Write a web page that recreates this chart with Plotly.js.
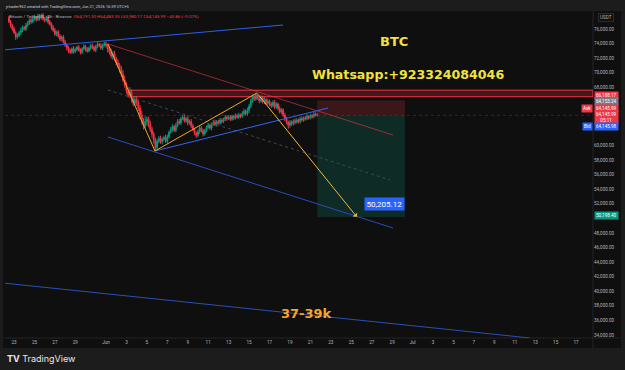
<!DOCTYPE html>
<html><head><meta charset="utf-8">
<script src="https://cdn.plot.ly/plotly-3.0.1.min.js"></script>
<style>html,body{margin:0;padding:0;background:#1c1c1c;overflow:hidden}#chart{width:625px;height:370px}</style>
</head><body><div id="chart"></div>
<script>
// ---------------- DATA ----------------
const firstCandleTime = '2026-05-22T12:00:00Z';   // 4h candles
const firstOpen = 77500;
const closePrices = [
 // late May – top and consolidation
 77000,76500,76000,75500,74900,75100,75500,75800,76200,76000,
 76500,76800,77200,77000,77400,77600,77300,77800,77500,77900,
 77400,77200,77600,77000,76700,76200,75800,75300,75600,75000,
 74600,74900,74200,73800,73400,73000,72800,73300,72900,73200,
 73500,73100,72800,73300,73600,73200,73000,73400,73700,73500,
 73100,73600,73900,73700,73400,73800,74000,73700,
 // early June – sell-off
 73200,72800,72300,72600,71900,71400,71000,70500,69800,69000,
 68300,67500,66900,67300,66400,65800,66300,65900,65100,64200,
 63300,62700,63300,63600,62900,62200,61600,60800,
 // recovery to mid-June high
 59700,60600,61000,60500,60900,61100,60600,61200,61800,62200,
 62600,62100,62700,63300,63100,63700,63900,63400,63700,63100,
 63300,62700,62200,61700,61400,61900,62400,62000,61600,62100,
 62500,62800,62400,62900,63200,62900,63300,63100,63500,63300,
 63600,63900,63700,63900,63600,64000,63800,64100,63900,64200,
 64000,64400,64700,64400,64800,65400,66100,66600,66400,66900,
 // pullback to Jun 21
 66500,66100,66600,66000,66300,65800,66100,65700,65500,65900,
 65300,65700,65100,64600,64900,64200,63700,63200,62800,63200,
 63000,63400,63200,63500,63300,63700,63500,63800,63700,64000,
 63800,64100,64000,64300,64191.30,64145.99
];
const upperWicks = [
 300,250,200,350,200,300,250,400,300,200, 350,300,250,400,300,350,200,300,250,200,
 300,250,200,300,250,200,300,350,200,250, 300,200,250,300,200,250,300,200,350,250,
 200,300,250,200,350,250,300,200,250,300, 200,250,300,200,350,200,250,300,
 300,400,500,350,400,300,450,350,400,500, 600,400,500,700,400,350,500,400,300,450,
 600,500,700,400,350,500,400,300,
 300,250,300,350,200,250,400,300,250,350, 300,250,400,300,350,200,300,450,250,300,
 250,350,300,250,200,300,350,250,300,200, 250,300,200,250,300,350,200,250,300,250,
 200,300,250,200,300,250,200,300,250,300, 200,300,350,250,400,300,350,400,300,300,
 300,250,300,200,350,250,300,200,250,300, 350,250,200,300,250,200,300,250,200,300,
 250,200,300,250,200,250,300,200,250,300, 200,250,200,300,250,292.05
];
const lowerWicks = [
 200,300,250,200,400,250,200,300,250,200, 300,200,250,300,200,250,300,200,350,200,
 250,300,200,350,250,300,200,250,300,200, 250,300,200,250,350,300,200,250,300,200,
 250,200,300,250,200,300,250,200,300,250, 200,300,250,200,250,300,200,250,
 400,300,350,500,300,400,350,500,400,300, 350,400,300,350,500,400,300,450,350,600,
 400,500,350,600,400,350,500,550,
 450,400,300,250,350,300,250,300,250,200, 300,250,300,200,250,300,200,250,300,350,
 250,300,200,300,350,250,300,200,350,250, 300,200,250,300,200,250,300,200,250,300,
 200,250,300,200,250,200,300,250,200,300, 250,200,300,250,300,350,300,250,300,250,
 250,300,200,250,300,200,250,300,350,250, 300,250,300,200,250,300,350,300,500,350,
 300,250,300,200,250,300,200,250,300,200, 250,200,300,250,200,165.82
];

// drawings (time, price)
const upperChannelT = ['2026-05-21 22:00','2026-06-18 07:40'], upperChannelP = [73117, 76549];
const redDiagT  = ['2026-06-01 04:40','2026-06-29 02:00'], redDiagP  = [73940, 61446];
const midDashT  = ['2026-06-01 04:40','2026-06-28 19:00'], midDashP  = [67625, 55268];
const lowerChanT= ['2026-06-01 04:40','2026-06-29 02:00'], lowerChanP= [61172, 48677];
const riseLineT = ['2026-06-05 19:00','2026-06-22 17:20'], riseLineP = [59250, 65153];
const zigT = ['2026-06-01 04:40','2026-06-05 19:00','2026-06-15 18:30'], zigP = [73940, 59250, 67213];
const arrowTipT = '2026-06-25 13:00', arrowTipP = 50205.12;
const bottomLineT = ['2026-05-21 22:00','2026-07-12 12:00'], bottomLineP = [41126, 33574];
const bandStartT = '2026-06-03 08:20', bandTopP = 67600, bandBotP = 66700;
const posStartT = '2026-06-21 16:00', posEndT = '2026-06-30 06:00';
const posEntry = 64153.24, posStop = 66188.17, posTarget = 50198.40;
const lastPrice = 64145.99;
const targetLabel = '50,205.12', targetLabelT = '2026-06-28 05:00', targetLabelP = 51972;

// axes
const xRange = ['2026-05-22 02:49','2026-07-18 15:40'];
const yRange = [33574, 78334];
const xTickVals = ['2026-05-23','2026-05-25','2026-05-27','2026-05-29','2026-06-01','2026-06-03','2026-06-05','2026-06-07',
 '2026-06-09','2026-06-11','2026-06-13','2026-06-15','2026-06-17','2026-06-19','2026-06-21','2026-06-23','2026-06-25',
 '2026-06-27','2026-06-29','2026-07-01','2026-07-03','2026-07-05','2026-07-07','2026-07-09','2026-07-11','2026-07-13',
 '2026-07-15','2026-07-17'];
const xTickText = ['23','25','27','29','Jun','3','5','7','9','11','13','15','17','19','21','23','25','27','29','Jul',
 '3','5','7','9','11','13','15','17'];
const yTickVals = [34000,36000,38000,40000,42000,44000,46000,48000,52000,54000,56000,58000,60000,68000,70000,72000,74000,76000];

// ---------------- BUILD ----------------
function fmt(d){const p=n=>String(n).padStart(2,'0');
 return d.getUTCFullYear()+'-'+p(d.getUTCMonth()+1)+'-'+p(d.getUTCDate())+' '+p(d.getUTCHours())+':'+p(d.getUTCMinutes());}
const t0 = new Date(firstCandleTime).getTime();
const times = closePrices.map((_,i)=>fmt(new Date(t0+i*4*3600*1000)));
const opens = closePrices.map((c,i)=> i===0 ? firstOpen : closePrices[i-1]);
const highs = closePrices.map((c,i)=> Math.max(c,opens[i]) + upperWicks[i]);
const lows  = closePrices.map((c,i)=> Math.min(c,opens[i]) - lowerWicks[i]);

const px = x => (x-5)/588, py = y => (338-y)/326;
const line = (x,y,color,w,dash)=>({type:'scatter',mode:'lines',x,y,line:{color,width:w,dash:dash||'solid'},hoverinfo:'skip',showlegend:false});

const traces = [
 line(bottomLineT,bottomLineP,'#2c4fb5',1),
 line(upperChannelT,upperChannelP,'#2f5fe8',1),
 line(redDiagT,redDiagP,'rgba(242,54,69,0.6)',1),
 line(midDashT,midDashP,'#42464f',1,'dot'),
 line(lowerChanT,lowerChanP,'#2b4bbd',1),
 {type:'candlestick',x:times,open:opens,high:highs,low:lows,close:closePrices,
  increasing:{line:{color:'#089981',width:1},fillcolor:'#089981'},
  decreasing:{line:{color:'#f23645',width:1},fillcolor:'#f23645'},
  whiskerwidth:0,hoverinfo:'skip',showlegend:false},
 line(riseLineT,riseLineP,'#3464f0',1),
 line(zigT,zigP,'#f5a623',1)
];

const tf = 'Roboto, sans-serif';
const tag = (txt,y,bg,col)=>({xref:'paper',yref:'paper',x:px(594),y:py(y),xanchor:'left',yanchor:'middle',
  text:txt,showarrow:false,bgcolor:bg,font:{family:tf,size:4.6,color:col||'#ffffff'},borderpad:1});
const sideTag = (txt,y,bg)=>({xref:'paper',yref:'paper',x:px(593),y:py(y),xanchor:'right',yanchor:'middle',
  text:txt,showarrow:false,bgcolor:bg,font:{family:tf,size:4.6,color:'#ffffff'},borderpad:1});

const annotations = [
 {xref:'paper',yref:'paper',x:px(3),y:py(6),xanchor:'left',yanchor:'middle',showarrow:false,
  text:'jrtrader962 created with TradingView.com, Jun 21, 2026 16:59 UTC+5',font:{family:tf,size:4,color:'#d1d4dc'}},
 {xref:'paper',yref:'paper',x:px(7),y:py(16),xanchor:'left',yanchor:'middle',showarrow:false,
  text:'Bitcoin / TetherUS · 4h · Binance  <span style="color:#f23645">O64,191.30</span> <span style="color:#f23645">H64,483.35</span> <span style="color:#f23645">L63,980.17</span> <span style="color:#f23645">C64,145.99</span> <span style="color:#f23645">−45.86 (−0.07%)</span>',
  font:{family:tf,size:4.4,color:'#b2b5be'}},
 {xref:'paper',yref:'paper',x:px(394),y:py(41),xanchor:'center',yanchor:'middle',showarrow:false,
  text:'<b>BTC</b>',font:{family:'DejaVu Sans',size:13,color:'#f2e23c'}},
 {xref:'paper',yref:'paper',x:px(408),y:py(74),xanchor:'center',yanchor:'middle',showarrow:false,
  text:'<b>Whatsapp:+923324084046</b>',font:{family:'DejaVu Sans',size:12.6,color:'#f2e23c'}},
 {xref:'paper',yref:'paper',x:px(306),y:py(313),xanchor:'center',yanchor:'middle',showarrow:false,
  text:'<b>37-39k</b>',font:{family:'DejaVu Sans',size:13,color:'#f5a623'}},
 {xref:'x',yref:'y',x:arrowTipT,y:arrowTipP,axref:'x',ayref:'y',ax:zigT[2],ay:zigP[2],text:'',
  showarrow:true,arrowhead:1,arrowsize:1,arrowwidth:1,arrowcolor:'#f0b93a'},
 {xref:'x',yref:'y',x:targetLabelT,y:targetLabelP,xanchor:'center',yanchor:'middle',showarrow:false,
  text:targetLabel,bgcolor:'#2962ff',font:{family:tf,size:8,color:'#ffffff'},borderpad:1.5},
 {xref:'paper',yref:'paper',x:px(598),y:py(17),xanchor:'left',yanchor:'middle',showarrow:false,
  text:'USDT',font:{family:tf,size:4.6,color:'#b2b5be'},bordercolor:'#2a2a2a',borderwidth:1,borderpad:1},
 tag('66,188.17',96,'#f23645'),
 tag('64,153.24',102,'#787b86'),
 tag('64,145.99',109,'#f23645'),
 tag('64,145.99<br>05:11',117.5,'#f23645'),
 tag('64,145.98',127,'#2962ff'),
 tag('50,198.40',216,'#089981'),
 sideTag('Ask',109,'#f23645'),
 sideTag('Bid',127,'#2962ff'),
 {xref:'paper',yref:'paper',x:px(5),y:py(358),xanchor:'left',yanchor:'middle',showarrow:false,
  text:'<b>TV</b> TradingView',font:{family:'Inter, sans-serif',size:9,color:'#e8e8e8'}}
];

const shapes = [
 {type:'rect',xref:'paper',yref:'paper',x0:px(3),x1:px(621),y0:py(348),y1:py(11),fillcolor:'#0f0f0f',line:{width:0},layer:'below'},
 {type:'line',xref:'paper',yref:'paper',x0:px(3),x1:px(621),y0:py(338),y1:py(338),line:{color:'#242424',width:1},layer:'below'},
 {type:'line',xref:'paper',yref:'paper',x0:px(593),x1:px(593),y0:py(348),y1:py(11),line:{color:'#242424',width:1},layer:'below'},
 {type:'rect',xref:'x',yref:'y',x0:bandStartT,x1:xRange[1],y0:bandBotP,y1:bandTopP,fillcolor:'rgba(242,54,69,0.22)',line:{color:'#f23645',width:1},layer:'below'},
 {type:'rect',xref:'x',yref:'y',x0:posStartT,x1:posEndT,y0:posEntry,y1:posStop,fillcolor:'rgba(242,54,69,0.2)',line:{width:0},layer:'below'},
 {type:'rect',xref:'x',yref:'y',x0:posStartT,x1:posEndT,y0:posTarget,y1:posEntry,fillcolor:'rgba(8,153,129,0.2)',line:{width:0},layer:'below'},
 {type:'line',xref:'paper',yref:'y',x0:0,x1:1,y0:lastPrice,y1:lastPrice,line:{color:'rgba(242,54,69,0.3)',width:1,dash:'dot'},layer:'below'}
];

const layout = {
 width:625,height:370,margin:{l:5,r:32,t:12,b:32},
 paper_bgcolor:'#1c1c1c',plot_bgcolor:'rgba(0,0,0,0)',
 showlegend:false,
 xaxis:{type:'date',range:xRange,rangeslider:{visible:false},tickmode:'array',tickvals:xTickVals,ticktext:xTickText,
  tickfont:{family:tf,size:4.6,color:'#b2b5be'},showgrid:false,zeroline:false,showline:false,ticks:'',fixedrange:true},
 yaxis:{side:'right',range:yRange,tickmode:'array',tickvals:yTickVals,tickformat:',.2f',
  tickfont:{family:tf,size:4.6,color:'#b2b5be'},showgrid:false,zeroline:false,showline:false,ticks:'',fixedrange:true},
 shapes, annotations
};
Plotly.newPlot('chart',traces,layout,{staticPlot:true,displayModeBar:false});
</script></body></html>
